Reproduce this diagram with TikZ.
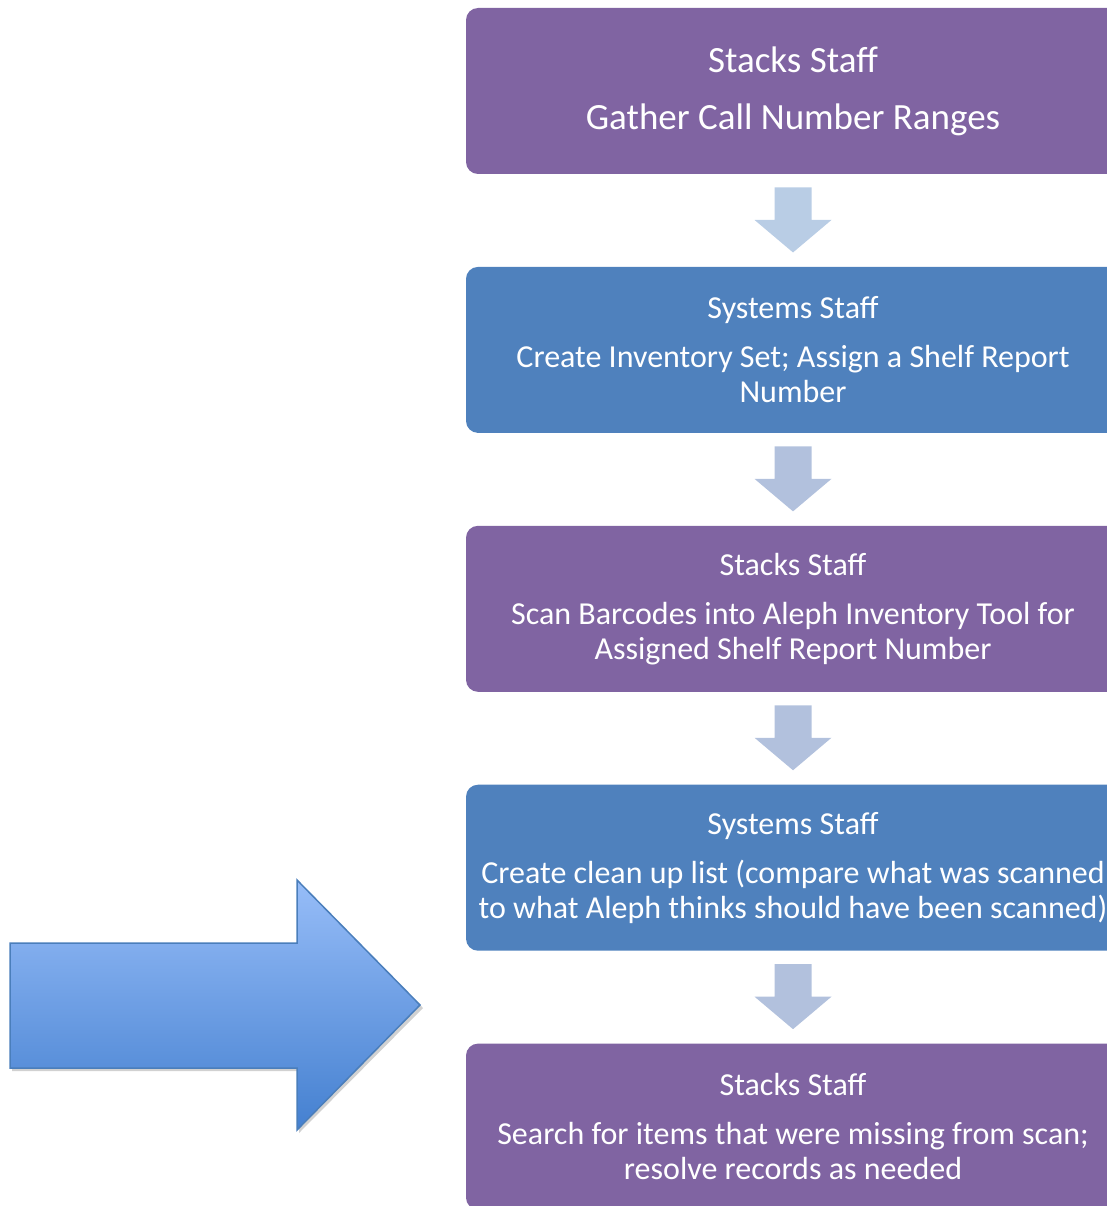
\documentclass[tikz,border=0pt]{standalone}
\usepackage{fontspec}
\setmainfont{Carlito}
\usetikzlibrary{positioning,calc}

\definecolor{stackpurple}{HTML}{8064A2}
\definecolor{sysblue}{HTML}{4F81BD}
\definecolor{flowA}{HTML}{B9CDE5}
\definecolor{flowB}{HTML}{B2C1DD}
\definecolor{bigtop}{HTML}{97BDF8}
\definecolor{bigbottom}{HTML}{4480D0}
\definecolor{bigline}{HTML}{4A7EBB}

\tikzset{
  stepbox/.style={rectangle, rounded corners=12pt, minimum width=654pt, minimum height=166pt,
    align=center, text=white, inner sep=0pt,
    font=\fontsize{32}{35}\selectfont},
  stacksbox/.style={stepbox, fill=stackpurple},
  systemsbox/.style={stepbox, fill=sysblue},
}

\begin{document}
\begin{tikzpicture}[x=1pt,y=-1pt]
          \useasboundingbox (0,0) rectangle (1107,1206);
          \clip (0,0) rectangle (1107,1206);

          % the five steps
          \node[stacksbox, font=\fontsize{37}{44}\selectfont] (gather) at (793,91)
            {Stacks Staff\\[13pt]Gather Call Number Ranges};
          \node[systemsbox, below=92.5pt of gather] (invset)
            {Systems Staff\\[14pt]Create Inventory Set; Assign a Shelf Report\\Number};
          \node[stacksbox, below=92.5pt of invset] (scan)
            {Stacks Staff\\[14pt]Scan Barcodes into Aleph Inventory Tool for\\Assigned Shelf Report Number};
          \node[systemsbox, below=92.5pt of scan] (cleanup)
            {Systems Staff\\[14pt]Create clean up list (compare what was scanned\\to what Aleph thinks should have been scanned)};
          \node[stacksbox, below=92.5pt of cleanup] (search)
            {Stacks Staff\\[14pt]Search for items that were missing from scan;\\resolve records as needed};

          % block arrows between the steps
          \foreach \from/\to/\col [count=\i] in {gather/invset/flowA, invset/scan/flowB, scan/cleanup/flowB, cleanup/search/flowB} {
            \path (\from.south) -- (\to.north) coordinate[midway] (m\i);
            \fill[\col] ($(m\i)+(-18.5,-33)$) -- ($(m\i)+(18.5,-33)$) -- ($(m\i)+(18.5,-0.5)$)
              -- ($(m\i)+(38.5,-0.5)$) -- ($(m\i)+(0,32)$) -- ($(m\i)+(-38.5,-0.5)$)
              -- ($(m\i)+(-18.5,-0.5)$) -- cycle;
          }

          % big arrow on the left
          \fill[black, opacity=0.18] (12,946) -- (299,946) -- (299,883) -- (423,1008) -- (299,1133) -- (299,1071) -- (12,1071) -- cycle;
          \draw[bigline, line width=1.5pt, top color=bigtop, bottom color=bigbottom]
            (10,943) -- (297,943) -- (297,880) -- (420,1005) -- (297,1130) -- (297,1068) -- (10,1068) -- cycle;
        \end{tikzpicture}
\end{document}
